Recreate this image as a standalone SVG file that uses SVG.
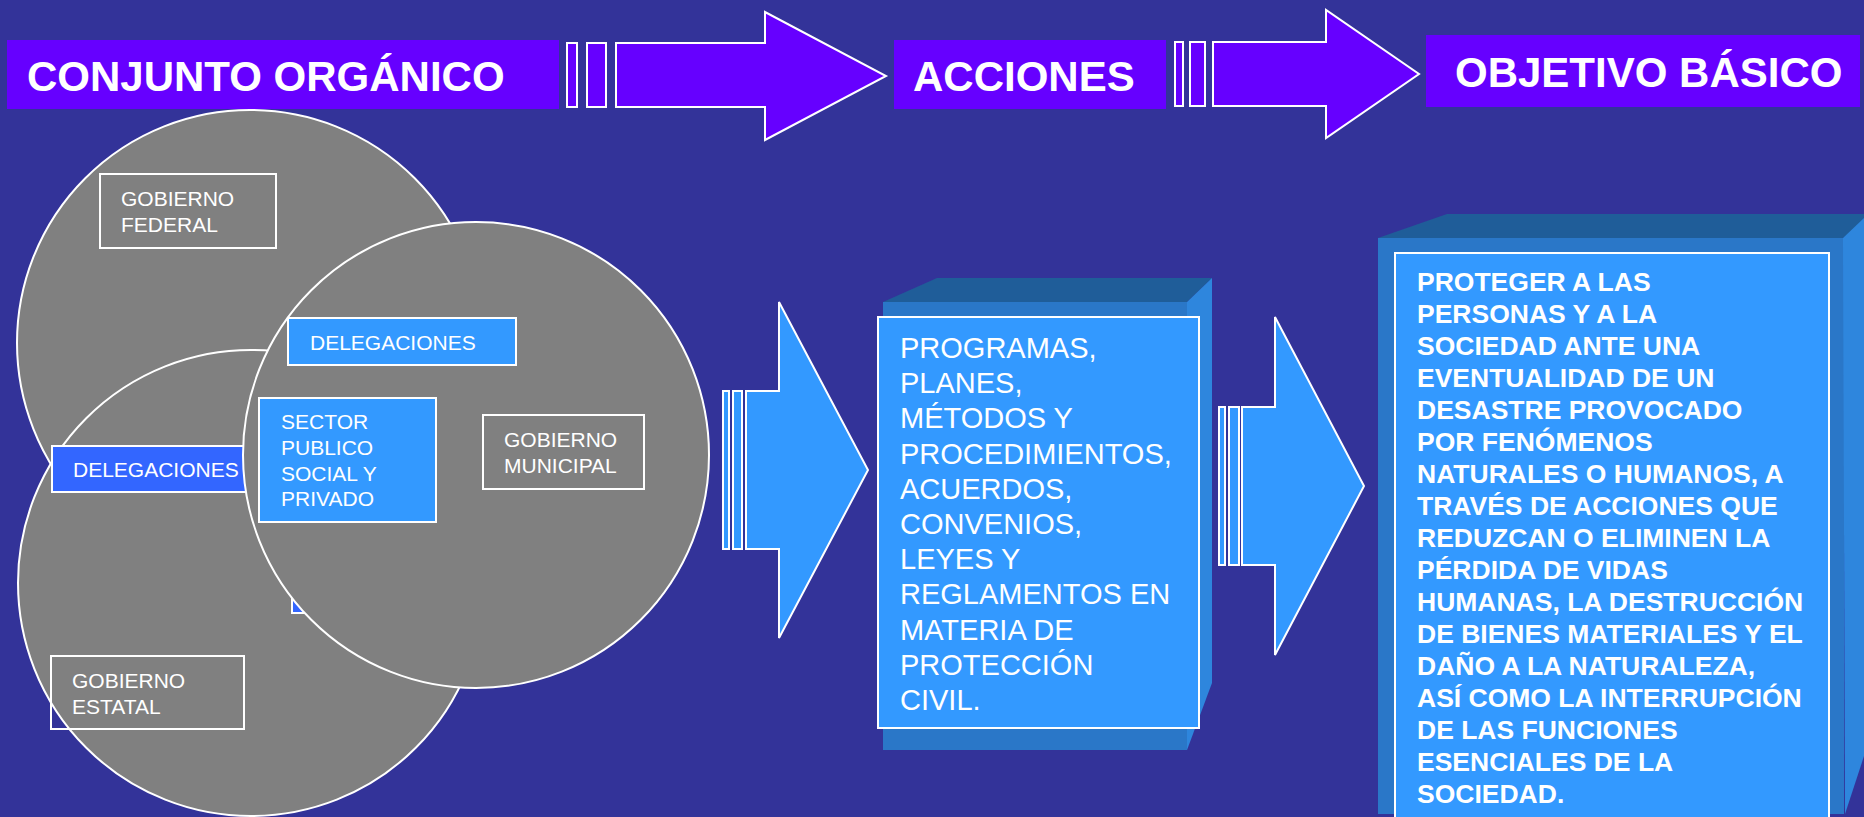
<svg xmlns="http://www.w3.org/2000/svg" width="1864" height="817" viewBox="0 0 1864 817">
<style>
text{font-family:"Liberation Sans",Arial,sans-serif;fill:#fff}
.title{font-size:42px;font-weight:bold}
.tbox{fill:#6600FF}
.tarrow{fill:#6600FF;stroke:#fff;stroke-width:2}
.barrow{fill:#3399FF;stroke:#fff;stroke-width:2}
.circ{fill:#808080;stroke:#fff;stroke-width:2}
.gbox{fill:none;stroke:#fff;stroke-width:2}
.lbox{fill:#3399FF;stroke:#fff;stroke-width:2}
.dbox{fill:#3366FF;stroke:#fff;stroke-width:2}
.lbl{font-size:21px}
.top3d{fill:#1F5D99}
.front3d{fill:#2A77C8}
.right3d{fill:#2E86DD}
.acc{font-size:29px}
.obj{font-size:26.5px;font-weight:bold}
</style>
<rect width="1864" height="817" fill="#333399"/>

<g id="title-conjunto">
<rect class="tbox" x="7" y="40" width="552" height="69"/>
<text class="title" x="27" y="91">CONJUNTO ORGÁNICO</text>
</g>
<g id="title-acciones">
<rect class="tbox" x="894" y="40" width="272" height="69"/>
<text class="title" x="913" y="91">ACCIONES</text>
</g>
<g id="title-objetivo">
<rect class="tbox" x="1426" y="35" width="434" height="72"/>
<text class="title" x="1455" y="87">OBJETIVO BÁSICO</text>
</g>

<g id="connectors">
<g id="arrow-top-1">
<rect class="tarrow" x="567" y="43" width="10" height="64"/>
<rect class="tarrow" x="587" y="43" width="19" height="64"/>
<polygon class="tarrow" points="616,43 765,43 765,12 886,76 765,140 765,107 616,107"/>
</g>
<g id="arrow-top-2">
<rect class="tarrow" x="1175" y="42" width="8" height="64"/>
<rect class="tarrow" x="1190" y="42" width="15" height="64"/>
<polygon class="tarrow" points="1213,42 1326,42 1326,10 1419,74 1326,138 1326,106 1213,106"/>
</g>
<g id="arrow-mid-1">
<rect class="barrow" x="723" y="391" width="6" height="158"/>
<rect class="barrow" x="733" y="391" width="9" height="158"/>
<polygon class="barrow" points="746,391 779,391 779,302 868,470 779,638 779,549 746,549"/>
</g>
<g id="arrow-mid-2">
<rect class="barrow" x="1219" y="407" width="6" height="158"/>
<rect class="barrow" x="1229" y="407" width="10" height="158"/>
<polygon class="barrow" points="1242,407 1275,407 1275,317 1364,486 1275,655 1275,565 1242,565"/>
</g>
</g>

<g id="venn">
<g id="circle-federal">
<circle class="circ" cx="250" cy="343" r="233"/>
<rect class="gbox" x="100" y="174" width="176" height="74"/>
<text class="lbl" x="121" y="206">GOBIERNO</text>
<text class="lbl" x="121" y="232">FEDERAL</text>
</g>
<g id="circle-estatal">
<circle class="circ" cx="251" cy="583" r="233"/>
<rect class="gbox" x="51" y="656" width="193" height="73"/>
<text class="lbl" x="72" y="688">GOBIERNO</text>
<text class="lbl" x="72" y="714">ESTATAL</text>
</g>
<g id="delegaciones-left">
<rect class="dbox" x="52" y="446" width="200" height="46"/>
<text class="lbl" x="73" y="477">DELEGACIONES</text>
</g>
<g id="delegaciones-hidden">
<rect class="dbox" x="292" y="560" width="170" height="53"/>
</g>
<g id="circle-municipal">
<circle class="circ" cx="476" cy="455" r="233"/>
<rect class="gbox" x="483" y="415" width="161" height="74"/>
<text class="lbl" x="504" y="447">GOBIERNO</text>
<text class="lbl" x="504" y="473">MUNICIPAL</text>
</g>
<g id="delegaciones-top">
<rect class="lbox" x="288" y="318" width="228" height="47"/>
<text class="lbl" x="310" y="350">DELEGACIONES</text>
</g>
<g id="sector">
<rect class="lbox" x="259" y="398" width="177" height="124"/>
<text class="lbl" x="281" y="429">SECTOR</text>
<text class="lbl" x="281" y="455">PUBLICO</text>
<text class="lbl" x="281" y="481">SOCIAL Y</text>
<text class="lbl" x="281" y="506">PRIVADO</text>
</g>
</g>

<g id="acciones-box">
<polygon class="top3d" points="883,302 937,278 1212,278 1187,302"/>
<rect class="front3d" x="883" y="302" width="304" height="448"/>
<polygon class="right3d" points="1187,302 1212,278 1212,683 1187,750"/>
<rect class="lbox" x="878" y="317" width="321" height="411"/>
<text class="acc" x="900" y="358">PROGRAMAS,</text>
<text class="acc" x="900" y="393.2">PLANES,</text>
<text class="acc" x="900" y="428.4">MÉTODOS Y</text>
<text class="acc" x="900" y="463.6">PROCEDIMIENTOS,</text>
<text class="acc" x="900" y="498.8">ACUERDOS,</text>
<text class="acc" x="900" y="534">CONVENIOS,</text>
<text class="acc" x="900" y="569.2">LEYES Y</text>
<text class="acc" x="900" y="604.4">REGLAMENTOS EN</text>
<text class="acc" x="900" y="639.6">MATERIA DE</text>
<text class="acc" x="900" y="674.8">PROTECCIÓN</text>
<text class="acc" x="900" y="710">CIVIL.</text>
</g>

<g id="objetivo-box">
<polygon class="top3d" points="1378,238 1447,214 1880,214 1843,238"/>
<rect class="front3d" x="1378" y="238" width="466" height="576"/>
<polygon class="right3d" points="1843,238 1866,216 1866,750 1845,814"/>
<rect class="lbox" x="1395" y="253" width="434" height="580"/>
<text class="obj" x="1417" y="291">PROTEGER A LAS</text>
<text class="obj" x="1417" y="323">PERSONAS Y A LA</text>
<text class="obj" x="1417" y="355">SOCIEDAD ANTE UNA</text>
<text class="obj" x="1417" y="387">EVENTUALIDAD DE UN</text>
<text class="obj" x="1417" y="419">DESASTRE PROVOCADO</text>
<text class="obj" x="1417" y="451">POR FENÓMENOS</text>
<text class="obj" x="1417" y="483">NATURALES O HUMANOS, A</text>
<text class="obj" x="1417" y="515">TRAVÉS DE ACCIONES QUE</text>
<text class="obj" x="1417" y="547">REDUZCAN O ELIMINEN LA</text>
<text class="obj" x="1417" y="579">PÉRDIDA DE VIDAS</text>
<text class="obj" x="1417" y="611">HUMANAS, LA DESTRUCCIÓN</text>
<text class="obj" x="1417" y="643">DE BIENES MATERIALES Y EL</text>
<text class="obj" x="1417" y="675">DAÑO A LA NATURALEZA,</text>
<text class="obj" x="1417" y="707">ASÍ COMO LA INTERRUPCIÓN</text>
<text class="obj" x="1417" y="739">DE LAS FUNCIONES</text>
<text class="obj" x="1417" y="771">ESENCIALES DE LA</text>
<text class="obj" x="1417" y="803">SOCIEDAD.</text>
</g>
</svg>
